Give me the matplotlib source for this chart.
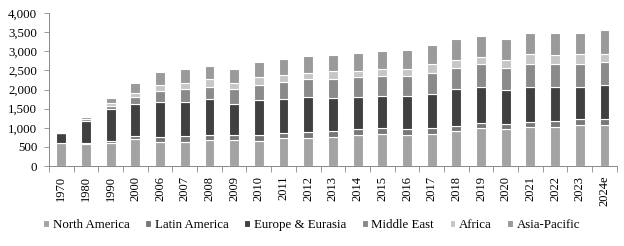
import matplotlib
matplotlib.use("Agg")
import matplotlib.pyplot as plt
import numpy as np
from matplotlib.ticker import FuncFormatter, FixedLocator

years = ["1970", "1980", "1990", "2000", "2006", "2007", "2008", "2009", "2010", "2011",
         "2012", "2013", "2014", "2015", "2016", "2017", "2018", "2019", "2020", "2021",
         "2022", "2023", "2024e"]
north_america = [610, 575, 593, 697, 636, 636, 671, 671, 662, 723, 723, 749, 802, 828, 802,
                 828, 906, 985, 959, 1011, 1028, 1081, 1081]
latin_america = [5, 15, 61, 87, 131, 140, 139, 139, 148, 131, 157, 166, 157, 157, 157, 157,
                 148, 130, 130, 131, 157, 148, 140]
europe_eurasia = [248, 587, 845, 828, 915, 906, 933, 811, 916, 906, 915, 872, 854, 854, 880,
                  906, 950, 942, 898, 932, 889, 845, 900]
middle_east = [0, 43, 70, 201, 288, 331, 331, 383, 392, 445, 471, 496, 523, 523, 523, 549,
               567, 601, 584, 601, 601, 601, 610]
africa = [0, 15, 69, 104, 148, 166, 201, 157, 200, 174, 174, 192, 156, 183, 183, 218, 200,
          200, 200, 244, 227, 244, 205]
asia_pacific = [0, 37, 149, 262, 348, 357, 339, 375, 401, 418, 436, 427, 471, 462, 488, 505,
                549, 541, 549, 558, 575, 558, 620]

series_names = ["North America", "Latin America", "Europe & Eurasia", "Middle East",
                "Africa", "Asia-Pacific"]
series = [north_america, latin_america, europe_eurasia, middle_east, africa, asia_pacific]
colors = ["#a3a3a3", "#777777", "#404040", "#8a8a8a", "#c6c6c6", "#9a9a9a"]

plt.rcParams["font.family"] = ["Liberation Serif", "DejaVu Serif"]

fig = plt.figure(figsize=(6.24, 2.46), dpi=100)
ax = fig.add_axes([0.0785, 0.325, 0.910, 0.622])

x = np.arange(len(years))
bottom = np.zeros(len(years))
for name, vals, c in zip(series_names, series, colors):
    v = np.array(vals, dtype=float)
    ax.bar(x, v, width=0.4, bottom=bottom, color=c, edgecolor="white", linewidth=0.8,
           label=name)
    bottom += v

ax.set_xlim(-0.5, len(years) - 0.5)
ax.set_ylim(0, 4000)
ax.set_yticks(np.arange(0, 4001, 500))
ax.yaxis.set_major_formatter(FuncFormatter(lambda v, p: f"{int(v):,}"))
ax.set_xticks(x)
ax.set_xticklabels(years, rotation=90)
ax.xaxis.set_minor_locator(FixedLocator(np.arange(-0.5, len(years), 1.0)))
ax.tick_params(axis="x", which="major", length=0, pad=7, labelsize=9)
ax.tick_params(axis="x", which="minor", length=4, width=0.6, color="#888888")
ax.tick_params(axis="y", length=3.5, width=0.6, color="#888888", labelsize=9.3, pad=5)

for s in ["top", "right"]:
    ax.spines[s].set_visible(False)
for s in ["left", "bottom"]:
    ax.spines[s].set_color("#888888")
    ax.spines[s].set_linewidth(0.7)

fig.legend(loc="center", bbox_to_anchor=(0.5, 0.085), ncol=6, frameon=False,
           fontsize=9.3, handlelength=0.45, handleheight=0.45, handletextpad=0.3,
           columnspacing=1.2)

fig.savefig("out.png", dpi=100)
